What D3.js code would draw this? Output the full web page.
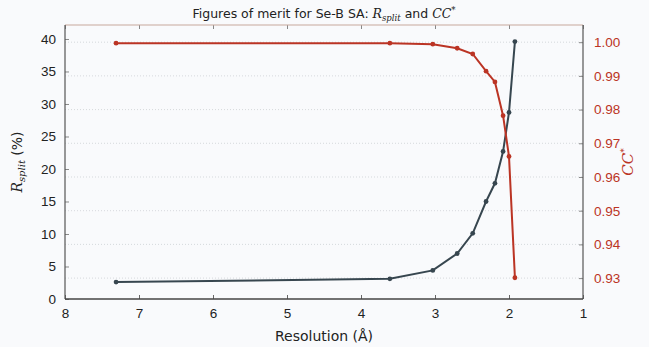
<!DOCTYPE html>
<html>
<head>
<meta charset="utf-8">
<script src="https://cdn.jsdelivr.net/npm/d3@7"></script>
<style>
  body { margin: 0; background: #f9fafc; }
  svg { display: block; font-family: "DejaVu Sans", sans-serif; }
</style>
</head>
<body>
<svg id="chart" width="649" height="347"></svg>
<script>
// resolution (A) of each shell
const resolution = [7.31, 3.61, 3.03, 2.70, 2.49, 2.31, 2.19, 2.08, 2.00, 1.92];
// R_split (%)
const rsplit = [2.6, 3.1, 4.4, 7.0, 10.1, 15.0, 17.8, 22.7, 28.7, 39.6];
// CC*
const ccstar = [0.9997, 0.9997, 0.9994, 0.9982, 0.9965, 0.9914, 0.9882, 0.9782, 0.9661, 0.9301];

const xTicks = [8, 7, 6, 5, 4, 3, 2, 1];
const leftTicks = [0, 5, 10, 15, 20, 25, 30, 35, 40];
const rightTicks = [0.93, 0.94, 0.95, 0.96, 0.97, 0.98, 0.99, 1.00];

const dark = "#37464f";
const red = "#bb3424";

const margin = {left: 65, right: 66, top: 25, bottom: 48};
const width = 649, height = 347;
const svg = d3.select("#chart");

const x = d3.scaleLinear().domain([8, 1]).range([margin.left, width - margin.right]);
const yL = d3.scaleLinear().domain([0, 42.15]).range([height - margin.bottom, margin.top]);
const yR = d3.scaleLinear().domain([0.9238, 1.0051]).range([height - margin.bottom, margin.top]);

const x0 = margin.left, x1 = width - margin.right;
const y0 = height - margin.bottom, y1 = margin.top;

// dotted grid on the CC* ticks
svg.append("g").selectAll("line")
  .data(rightTicks)
  .enter().append("line")
  .attr("x1", x0).attr("x2", x1)
  .attr("y1", d => yR(d)).attr("y2", d => yR(d))
  .attr("stroke", "#cdd0d4")
  .attr("stroke-width", 0.8)
  .attr("stroke-dasharray", "1,2");

// bottom axis
const xAxis = svg.append("g")
  .attr("transform", "translate(0," + y0 + ")")
  .call(d3.axisBottom(x).tickValues(xTicks).tickFormat(d3.format("d")).tickSize(-4).tickPadding(9));
xAxis.select(".domain").remove();
xAxis.selectAll("line").attr("stroke", "#666");
xAxis.selectAll("text").attr("font-size", 13.5).attr("fill", "#222");

// top ticks
svg.append("g")
  .attr("transform", "translate(0," + y1 + ")")
  .call(d3.axisTop(x).tickValues(xTicks).tickFormat("").tickSize(-4))
  .call(g => g.select(".domain").remove())
  .selectAll("line").attr("stroke", "#888");

// left axis
const lAxis = svg.append("g")
  .attr("transform", "translate(" + x0 + ",0)")
  .call(d3.axisLeft(yL).tickValues(leftTicks).tickSize(-4).tickPadding(9));
lAxis.select(".domain").remove();
lAxis.selectAll("line").attr("stroke", "#888");
lAxis.selectAll("text").attr("font-size", 13.5).attr("fill", "#222");

// right axis
const rAxis = svg.append("g")
  .attr("transform", "translate(" + x1 + ",0)")
  .call(d3.axisRight(yR).tickValues(rightTicks).tickFormat(d3.format(".2f")).tickSize(-4).tickPadding(11));
rAxis.select(".domain").remove();
rAxis.selectAll("line").attr("stroke", "#888");
rAxis.selectAll("text").attr("font-size", 13.5).attr("fill", red);

// frame
svg.append("line").attr("x1", x0).attr("x2", x1).attr("y1", y1).attr("y2", y1)
  .attr("stroke", "#c8a89c").attr("stroke-width", 1.2);
svg.append("line").attr("x1", x0).attr("x2", x0).attr("y1", y1).attr("y2", y0)
  .attr("stroke", "#555").attr("stroke-width", 1.2);
svg.append("line").attr("x1", x1).attr("x2", x1).attr("y1", y1).attr("y2", y0)
  .attr("stroke", "#555").attr("stroke-width", 1.2);
svg.append("line").attr("x1", x0).attr("x2", x1).attr("y1", y0).attr("y2", y0)
  .attr("stroke", "#444").attr("stroke-width", 1.4);

// series
const rLine = d3.line().x((d, i) => x(resolution[i])).y(d => yL(d));
const cLine = d3.line().x((d, i) => x(resolution[i])).y(d => yR(d));

svg.append("path").datum(rsplit)
  .attr("d", rLine).attr("fill", "none")
  .attr("stroke", dark).attr("stroke-width", 2);
svg.append("g").selectAll("circle")
  .data(rsplit).enter().append("circle")
  .attr("cx", (d, i) => x(resolution[i])).attr("cy", d => yL(d))
  .attr("r", 2.4).attr("fill", dark);

svg.append("path").datum(ccstar)
  .attr("d", cLine).attr("fill", "none")
  .attr("stroke", red).attr("stroke-width", 2);
svg.append("g").selectAll("circle")
  .data(ccstar).enter().append("circle")
  .attr("cx", (d, i) => x(resolution[i])).attr("cy", d => yR(d))
  .attr("r", 2.4).attr("fill", red);

// title
const title = svg.append("text")
  .attr("x", (x0 + x1) / 2).attr("y", 18)
  .attr("text-anchor", "middle").attr("font-size", 12.5).attr("fill", "#222");
title.append("tspan").text("Figures of merit for Se-B SA: ");
title.append("tspan").attr("font-family", "DejaVu Serif").attr("font-style", "italic").text("R");
title.append("tspan").attr("font-family", "DejaVu Serif").attr("font-style", "italic")
  .attr("font-size", 8.5).attr("dy", 3).text("split");
title.append("tspan").attr("dy", -3).text(" and ");
title.append("tspan").attr("font-family", "DejaVu Serif").attr("font-style", "italic").text("CC");
title.append("tspan").attr("font-family", "DejaVu Serif").attr("font-style", "italic")
  .attr("font-size", 8.5).attr("dy", -5).text("*");

// x label
svg.append("text")
  .attr("x", (x0 + x1) / 2).attr("y", 341)
  .attr("text-anchor", "middle").attr("font-size", 14).attr("fill", "#222")
  .text("Resolution (Å)");

// left label
const yl = svg.append("text")
  .attr("transform", "translate(22," + ((y0 + y1) / 2) + ") rotate(-90)")
  .attr("text-anchor", "middle").attr("font-size", 14).attr("fill", "#222");
yl.append("tspan").attr("font-family", "DejaVu Serif").attr("font-style", "italic").text("R");
yl.append("tspan").attr("font-family", "DejaVu Serif").attr("font-style", "italic")
  .attr("font-size", 10).attr("dy", 3).text("split");
yl.append("tspan").attr("dy", -3).text(" (%)");

// right label
const yr = svg.append("text")
  .attr("transform", "translate(633," + ((y0 + y1) / 2) + ") rotate(-90)")
  .attr("text-anchor", "middle").attr("font-size", 15).attr("fill", red)
  .attr("font-family", "DejaVu Serif").attr("font-style", "italic");
yr.append("tspan").text("CC");
yr.append("tspan").attr("font-size", 9).attr("dy", -6).text("*");
</script>
</body>
</html>
